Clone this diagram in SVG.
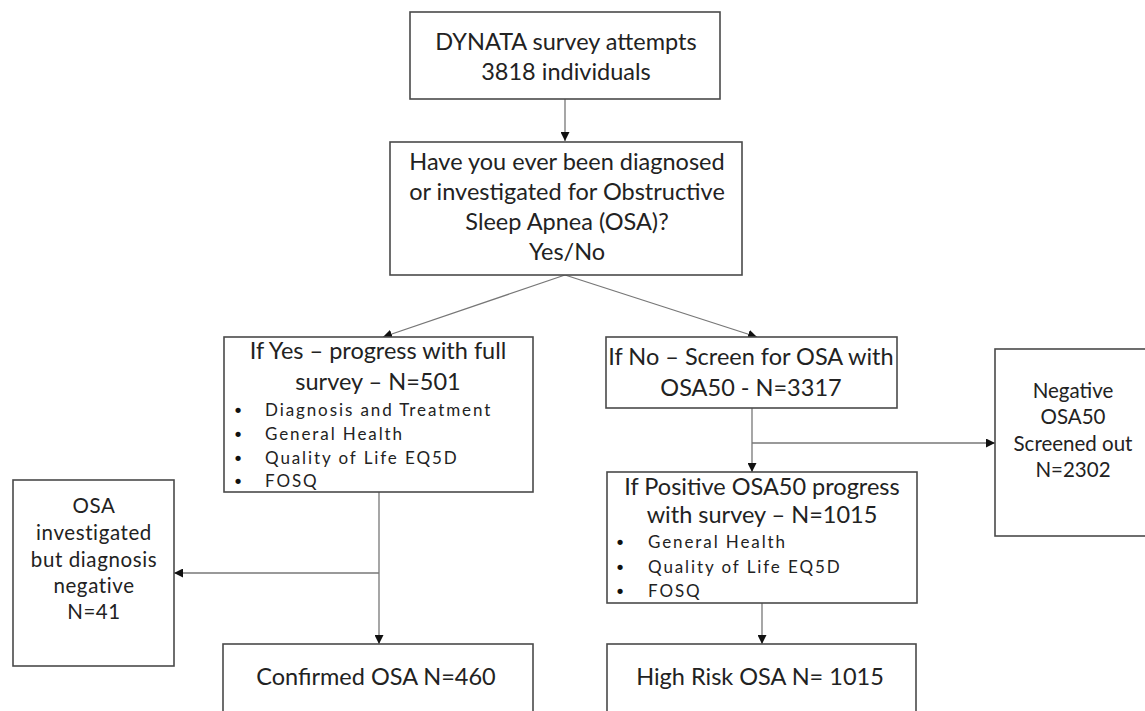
<svg xmlns="http://www.w3.org/2000/svg" width="1145" height="711" viewBox="0 0 1145 711">
<defs>
<style>
.box{fill:#fff;stroke:#4a4a4a;stroke-width:1.6}
.t{font-family:Lato,"Open Sans","Liberation Sans",sans-serif;fill:#222;text-anchor:middle}
.big{font-size:23.5px}
.mid{font-size:20.5px}
.sp{letter-spacing:0.6px}
.bl{font-family:Lato,"Open Sans","Liberation Sans",sans-serif;fill:#222;font-size:17px;letter-spacing:1.9px}
.dot{font-family:"DejaVu Sans",sans-serif;fill:#111;font-size:18px;text-anchor:middle}
.c{stroke:#777;stroke-width:1.3;fill:none}
</style>
<marker id="ah" viewBox="0 0 10 10" refX="10" refY="5" markerWidth="9" markerHeight="9" markerUnits="userSpaceOnUse" orient="auto">
<path d="M0,0 L10,5 L0,10 z" fill="#111"/>
</marker>
</defs>
<rect width="1145" height="711" fill="#fff"/>
<g id="connectors">
<line class="c" x1="565" y1="99" x2="565" y2="141" marker-end="url(#ah)"/>
<line class="c" x1="565" y1="275" x2="383" y2="337" marker-end="url(#ah)"/>
<line class="c" x1="565" y1="275" x2="757" y2="337" marker-end="url(#ah)"/>
<line class="c" x1="379" y1="492" x2="379" y2="644" marker-end="url(#ah)"/>
<line class="c" x1="379" y1="573" x2="174" y2="573" marker-end="url(#ah)"/>
<line class="c" x1="752" y1="408" x2="752" y2="472" marker-end="url(#ah)"/>
<line class="c" x1="752" y1="443" x2="995" y2="443" marker-end="url(#ah)"/>
<line class="c" x1="762" y1="603" x2="762" y2="644" marker-end="url(#ah)"/>
</g>
<g id="n1">
<rect class="box" x="410" y="12" width="310" height="87"/>
<text class="t big" x="566" y="50">DYNATA survey attempts</text>
<text class="t big" x="566" y="80">3818 individuals</text>
</g>
<g id="n2">
<rect class="box" x="390" y="142" width="352" height="133"/>
<text class="t big" x="567" y="170">Have you ever been diagnosed</text>
<text class="t big" x="567" y="200">or investigated for Obstructive</text>
<text class="t big" x="567" y="230">Sleep Apnea (OSA)?</text>
<text class="t big" x="567" y="260">Yes/No</text>
</g>
<g id="n3">
<rect class="box" x="224" y="337" width="309" height="155"/>
<text class="t big" x="378" y="359">If Yes – progress with full</text>
<text class="t big" x="378" y="390">survey – N=501</text>
<text class="dot" x="238" y="417">•</text><text class="bl" x="265" y="416">Diagnosis and Treatment</text>
<text class="dot" x="238" y="441">•</text><text class="bl" x="265" y="440">General Health</text>
<text class="dot" x="238" y="465">•</text><text class="bl" x="265" y="464">Quality of Life EQ5D</text>
<text class="dot" x="238" y="488">•</text><text class="bl" x="265" y="487">FOSQ</text>
</g>
<g id="n4">
<rect class="box" x="606" y="337" width="291" height="71"/>
<text class="t big" x="751" y="365">If No – Screen for OSA with</text>
<text class="t big" x="751" y="396">OSA50 - N=3317</text>
</g>
<g id="n5">
<rect class="box" x="995" y="349" width="160" height="187"/>
<text class="t mid" x="1073" y="398">Negative</text>
<text class="t mid" x="1073" y="424">OSA50</text>
<text class="t mid" x="1073" y="451">Screened out</text>
<text class="t mid" x="1073" y="477">N=2302</text>
</g>
<g id="n6">
<rect class="box" x="607" y="472" width="310" height="131"/>
<text class="t big" x="762" y="495">If Positive OSA50 progress</text>
<text class="t big" x="762" y="523">with survey – N=1015</text>
<text class="dot" x="620" y="549">•</text><text class="bl" x="648" y="548">General Health</text>
<text class="dot" x="620" y="574">•</text><text class="bl" x="648" y="573">Quality of Life EQ5D</text>
<text class="dot" x="620" y="598">•</text><text class="bl" x="648" y="597">FOSQ</text>
</g>
<g id="n7">
<rect class="box" x="13" y="480" width="161" height="186"/>
<text class="t mid sp" x="94" y="513">OSA</text>
<text class="t mid sp" x="94" y="540">investigated</text>
<text class="t mid sp" x="94" y="567">but diagnosis</text>
<text class="t mid sp" x="94" y="593">negative</text>
<text class="t mid sp" x="94" y="619">N=41</text>
</g>
<g id="n8">
<rect class="box" x="223" y="644" width="310" height="80"/>
<text class="t big" x="376" y="685">Confirmed OSA N=460</text>
</g>
<g id="n9">
<rect class="box" x="607" y="644" width="309" height="80"/>
<text class="t big" x="760" y="685">High Risk OSA N= 1015</text>
</g>
</svg>
